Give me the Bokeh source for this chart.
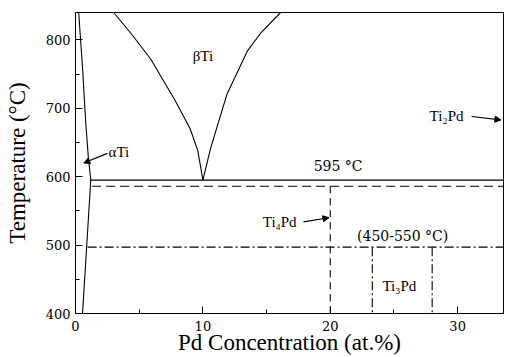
from bokeh.plotting import figure
from bokeh.models import Range1d, FixedTicker, Arrow, NormalHead, Label
from bokeh.embed import file_html
from bokeh.resources import INLINE

# ---- data (Ti-Pd partial phase diagram) ----
x_ticks = [0, 10, 20, 30]
x_minor = [5, 15, 25]
y_ticks = [400, 500, 600, 700, 800]
y_minor = [450, 550, 650, 750]

# alpha-Ti solvus (at.% Pd, deg C)
alpha_x = [0.25, 0.55, 0.8, 1.0, 1.2, 0.95, 0.75, 0.55]
alpha_y = [840, 760, 680, 630, 595, 520, 460, 400]

# beta-Ti boundaries
beta_left_x = [3.0, 4.5, 5.9, 7.8, 9.0, 9.6, 10.0]
beta_left_y = [840, 806, 772, 712, 670, 638, 595]
beta_right_x = [16.1, 14.5, 13.5, 11.9, 11.1, 10.6, 10.0]
beta_right_y = [840, 809, 784, 721, 672, 641, 595]

# isotherms
eutectoid_x = [1.2, 33.6]
eutectoid_y = [595, 595]
ti4pd_h_x = [1.3, 33.6]
ti4pd_h_y = [586, 586]
ti3pd_h_x = [0.95, 33.6]
ti3pd_h_y = [497, 497]

# compound lines
ti4pd_v_x = [20, 20]
ti4pd_v_y = [586, 400]
ti3pd_left_x = [23.3, 23.3]
ti3pd_right_x = [28.0, 28.0]
ti3pd_v_y = [497, 400]

FONT = "Liberation Serif"
NUMFONT = "DejaVu Serif"

p = figure(width=505, height=357, output_backend="svg", toolbar_location=None,
           x_range=Range1d(0, 33.6), y_range=Range1d(400, 840),
           min_border_left=75, min_border_top=12, min_border_right=2,
           min_border_bottom=43)
p.background_fill_color = "white"
p.border_fill_color = "white"
p.outline_line_color = "black"
p.outline_line_width = 1
p.grid.visible = False

p.xaxis.ticker = FixedTicker(ticks=x_ticks, minor_ticks=x_minor)
p.yaxis.ticker = FixedTicker(ticks=y_ticks, minor_ticks=y_minor)
for ax in (p.xaxis[0], p.yaxis[0]):
    ax.major_tick_in = 7
    ax.major_tick_out = 0
    ax.minor_tick_in = 4
    ax.minor_tick_out = 0
    ax.axis_line_color = "black"
    ax.major_tick_line_color = "black"
    ax.minor_tick_line_color = "black"
    ax.major_label_text_font = NUMFONT
    ax.major_label_text_font_size = "13px"
    ax.major_label_text_color = "black"
    ax.axis_label_text_font = FONT
    ax.axis_label_text_font_size = "23px"
    ax.axis_label_text_font_style = "normal"
    ax.axis_label_text_color = "black"

p.xaxis.axis_label = "Pd Concentration (at.%)"
p.yaxis.axis_label = "Temperature (°C)"
p.xaxis.major_label_standoff = 7
p.xaxis.axis_label_standoff = -4
p.yaxis.major_label_standoff = 5
p.yaxis.axis_label_standoff = 13

lc = "black"
p.line(alpha_x, alpha_y, line_color=lc, line_width=1.1)
p.line(beta_left_x, beta_left_y, line_color=lc, line_width=1.1)
p.line(beta_right_x, beta_right_y, line_color=lc, line_width=1.1)
p.line(eutectoid_x, eutectoid_y, line_color=lc, line_width=1.1)
p.line(ti4pd_h_x, ti4pd_h_y, line_color=lc, line_width=1.1, line_dash="9 5")
p.line(ti4pd_v_x, ti4pd_v_y, line_color=lc, line_width=1.1, line_dash="7 5")
p.line(ti3pd_h_x, ti3pd_h_y, line_color=lc, line_width=1.1, line_dash="9 3 2 3")
p.line(ti3pd_left_x, ti3pd_v_y, line_color=lc, line_width=1.1, line_dash="9 3 2 3")
p.line(ti3pd_right_x, ti3pd_v_y, line_color=lc, line_width=1.1, line_dash="9 3 2 3")


def lab(x, y, t, align="left", size="15px", font=FONT):
    p.add_layout(Label(x=x, y=y, text=t, text_font=font, text_font_size=size,
                       text_align=align, text_baseline="middle", text_color="black"))


def arr(x0, y0, x1, y1):
    p.add_layout(Arrow(end=NormalHead(size=6, fill_color="black", line_color="black"),
                       x_start=x0, y_start=y0, x_end=x1, y_end=y1,
                       line_color="black", line_width=1.2))


lab(10.0, 776, "βTi", align="center")
lab(2.6, 636, "αTi")
arr(2.5, 634, 0.65, 620)
lab(18.7, 616, "595 °C", size="14px", font=NUMFONT)
lab(14.7, 534, "Ti₄Pd")
arr(17.9, 534, 19.9, 540)
lab(22.1, 514, "(450-550 °C)", size="14px", font=NUMFONT)
lab(24.1, 440, "Ti₃Pd")
lab(27.8, 688, "Ti₂Pd")
arr(31.1, 688, 33.4, 683)

open("out.html", "w").write(file_html(p, INLINE))
